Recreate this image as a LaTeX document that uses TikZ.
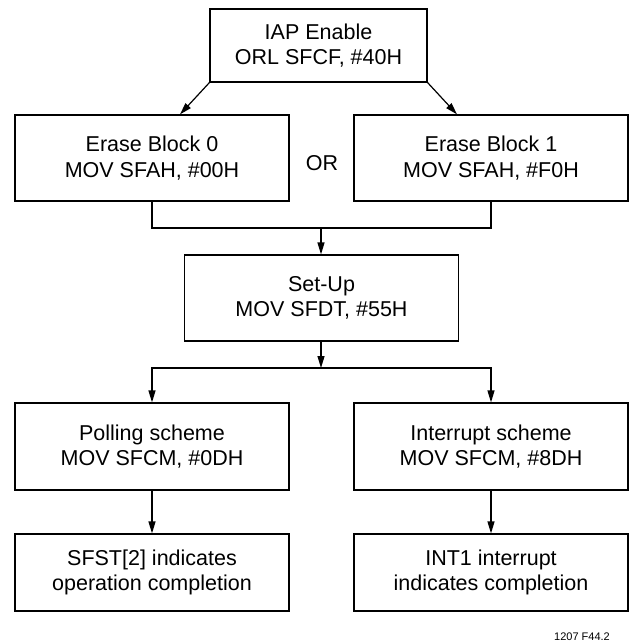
\documentclass[tikz,border=0pt]{standalone}
\usepackage{fontspec}
\setmainfont{Liberation Sans}
\usetikzlibrary{positioning,arrows.meta}

\begin{document}
\begin{tikzpicture}[x=1pt,y=-1pt,
    line width=1.2pt,
    flowbox/.style={draw, align=center, inner sep=0pt,
        font=\fontsize{21.5}{25.5}\selectfont},
    wide/.style={flowbox, minimum width=274pt, minimum height=86pt},
    flow/.style={-{Triangle[length=12pt,width=7pt]}}]
    \useasboundingbox (0,0) rectangle (630,644);

    \node[flowbox, minimum width=217pt, minimum height=73pt] (iap) at (318.5,45.5) {IAP Enable\\ORL SFCF, \#40H};

    \node[wide] (erase0) at (152,158) {Erase Block 0\\MOV SFAH, \#00H};
    \node[wide] (erase1) at (491,158) {Erase Block 1\\MOV SFAH, \#F0H};
    \node[font=\fontsize{21.5}{25.5}\selectfont] (or) at (322,163) {OR};

    \node[wide] (setup) at (321.5,298) {Set-Up\\MOV SFDT, \#55H};

    \node[wide, minimum height=87pt] (polling) at (152,446.5) {Polling scheme\\MOV SFCM, \#0DH};
    \node[wide, minimum height=87pt] (interrupt) at (491,446.5) {Interrupt scheme\\MOV SFCM, \#8DH};

    \node[wide, minimum height=77pt] (sfst) at (152,572.5) {SFST[2] indicates\\operation completion};
    \node[wide, minimum height=77pt] (int1) at (491,572.5) {INT1 interrupt\\indicates completion};

    \node[font=\fontsize{11}{13}\selectfont] (fig) at (582,637) {1207 F44.2};

    % branches from IAP
    \draw[flow] (iap.south west) -- ([xshift=28pt]erase0.north);
    \draw[flow] (iap.south east) -- ([xshift=-34pt]erase1.north);

    % merge
    \coordinate (merge) at (321,228);
    \draw (erase0.south) |- (merge) -| (erase1.south);
    \draw[flow] (merge) -- (merge |- setup.north);

    % split
    \coordinate (split) at (321,368);
    \draw[flow] (split |- setup.south) -- (split);
    \draw[flow] (split) -| (polling.north);
    \draw[flow] (split) -| (interrupt.north);

    \draw[flow] (polling) -- (sfst);
    \draw[flow] (interrupt) -- (int1);
\end{tikzpicture}
\end{document}
